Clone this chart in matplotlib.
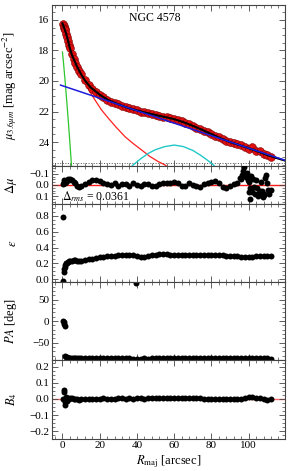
import matplotlib
matplotlib.use("Agg")
import matplotlib.pyplot as plt
from matplotlib.ticker import MultipleLocator

plt.rcParams['font.family'] = ['Liberation Serif', 'DejaVu Serif']
plt.rcParams['mathtext.fontset'] = 'stix'
plt.rcParams['font.size'] = 8

# radii of the isophote fits [arcsec]
r = [0.3, 0.6, 0.9, 1.2, 1.5, 2.0, 2.5, 3.0, 3.5, 4.0,
     5, 6, 7, 8, 9, 10,
     12, 14, 16, 18, 20, 22, 24, 26, 28, 30,
     32, 34, 36, 38, 40, 42, 44, 46, 48, 50,
     52, 54, 56, 58, 60, 62, 64, 66, 68, 70,
     72, 74, 76, 78, 80, 82, 84, 86, 88, 90,
     92, 94, 96, 98, 100, 102, 104, 106, 108, 110, 112]

# surface brightness profile
mu = [16.25, 16.38, 16.5, 16.6, 16.68, 16.9, 17.1, 17.35, 17.62, 17.85,
      18.25, 18.55, 18.85, 19.1, 19.35, 19.55,
      19.95, 20.27, 20.5, 20.72, 20.9, 21.07, 21.22, 21.35, 21.46, 21.54,
      21.62, 21.7, 21.78, 21.86, 21.93, 22.0, 22.06, 22.12, 22.18, 22.23,
      22.28, 22.33, 22.38, 22.44, 22.5, 22.57, 22.65, 22.74, 22.84, 22.94,
      23.05, 23.15, 23.26, 23.37, 23.48, 23.6, 23.7, 23.82, 23.92, 24.0,
      24.08, 24.14, 24.22, 24.3, 24.45, 24.35, 24.6, 24.62, 24.8, 24.82, 24.95]

# model and components
model_r = [0, 1, 2, 3, 4, 5, 6, 8, 10, 12, 15, 20, 25, 30, 35, 40, 45, 50, 55,
           60, 65, 70, 75, 80, 85, 90, 95, 100, 105, 110, 115, 125]
model_mu = [16.22, 16.55, 16.9, 17.35, 17.85, 18.25, 18.55, 19.1, 19.55, 19.95,
            20.4, 20.9, 21.28, 21.53, 21.75, 21.93, 22.09, 22.23, 22.36, 22.5,
            22.7, 22.94, 23.2, 23.48, 23.76, 24.0, 24.2, 24.4, 24.62, 24.85,
            25.05, 25.42]
bulge_r = [0, 1, 2, 3, 4, 6, 8, 10, 12, 14, 17.5, 21, 24.7, 29, 33.6, 38, 42.5,
           47, 51, 55, 58, 62]
bulge_mu = [16.22, 16.6, 16.95, 17.35, 17.75, 18.45, 19.0, 19.55, 20.05, 20.55,
            21.25, 21.9, 22.45, 23.05, 23.65, 24.1, 24.52, 24.95, 25.25, 25.5,
            25.75, 26.0]
disk_r = [-1.0, 125]
disk_mu = [20.27, 25.42]
nuc_r = [0.0, 0.5, 1.0, 1.5, 2.0, 2.5, 3.0, 3.5, 4.0, 4.5, 5.0]
nuc_mu = [18.1, 18.7, 19.4, 20.1, 20.85, 21.6, 22.4, 23.2, 24.05, 24.9, 25.8]
ring_r = [36.5, 38, 42, 46, 50, 55, 60, 65, 70, 74, 78, 81, 82.5]
ring_mu = [25.7, 25.5, 25.1, 24.75, 24.5, 24.3, 24.2, 24.3, 24.55, 24.85, 25.2,
           25.5, 25.7]
sky_mu = 25.4

# residuals
dmu = [-0.01, -0.03, -0.04, -0.035, -0.02, -0.03, -0.045, -0.05, -0.04, -0.05,
       -0.045, -0.03, -0.015, 0.005, 0.015, 0.01,
       -0.01, -0.025, -0.04, -0.045, -0.038, -0.02, -0.01, 0.0, -0.015, 0.005,
       -0.01, -0.005, 0.01, -0.015, 0.0, 0.012, -0.01, -0.005, 0.01, 0.012,
       -0.01, -0.015, -0.02, -0.02, -0.027, -0.015, 0.008, 0.005, -0.015, 0.0,
       0.01, 0.015, -0.008, -0.02, -0.03, -0.035, -0.015, 0.02, 0.03, 0.005,
       -0.01, -0.02, -0.05, -0.09, -0.03, 0.06, -0.04, 0.05, 0.08, -0.02, 0.04]
r_out = [95.5, 96.5, 97.0, 97.5, 98.0, 98.5, 99.0, 99.5, 100.0, 100.5, 101.0,
         101.5, 102.5, 103.0, 103.5, 104.5, 105.0, 105.5, 106.5, 107.0, 107.5,
         108.5, 109.0, 109.5, 110.5, 111.0]
dmu_out = [-0.06, -0.09, -0.12, -0.16, -0.10, -0.07, -0.11, -0.04, 0.06, 0.12,
           0.03, -0.08, -0.05, 0.02, 0.08, 0.03, 0.10, 0.07, -0.03, 0.05, 0.11,
           0.09, -0.06, -0.09, 0.04, 0.08]
drms = 0.0361

# ellipticity
ell = [-0.02, 0.09, 0.13, 0.16, 0.18, 0.2, 0.21, 0.22, 0.225, 0.23,
       0.235, 0.24, 0.24, 0.235, 0.23, 0.23,
       0.24, 0.25, 0.26, 0.27, 0.28, 0.285, 0.29, 0.295, 0.295, 0.30,
       0.30, 0.30, 0.305, 0.30, 0.295, 0.285, 0.28, 0.29, 0.30, 0.31,
       0.315, 0.32, 0.315, 0.31, 0.31, 0.31, 0.31, 0.305, 0.30, 0.30,
       0.30, 0.30, 0.305, 0.305, 0.31, 0.31, 0.305, 0.30, 0.295, 0.295,
       0.29, 0.29, 0.285, 0.28, 0.275, 0.285, 0.29, 0.29, 0.29, 0.29, 0.29]
ell_extra_r = [0.2]
ell_extra = [0.78]

# position angle
pa = [1, -3, -7, -12, -80, -83, -84, -84.5, -85, -85,
      -85.5, -85.5, -85, -85.5, -86, -86,
      -85.5, -85.5, -86, -86, -85.5, -86, -86, -86.5, -86, -86.5,
      -86, -86.5, -86.5, -87, -87, -87, -86.5, -87, -86.5, -86.5,
      -86, -86.5, -86.5, -86, -86, -86.5, -86, -86, -86.5, -86,
      -86, -86.5, -86, -86, -86.5, -86.5, -86, -86, -86.5, -86,
      -86, -86.5, -86.5, -86, -86.5, -86, -86.5, -86.5, -86, -86.5, -87]
pa_extra_r = [39.5]
pa_extra = [89]

# B4
b4 = [0.0, 0.045, 0.055, -0.02, -0.035, 0.01, -0.01, 0.008, 0.0, 0.005,
      0.004, -0.003, 0.002, 0.0, -0.004, 0.002,
      0.001, -0.003, 0.002, 0.0, -0.002, 0.003, 0.0, 0.002, -0.002, 0.004,
      0.006, 0.002, 0.004, -0.001, 0.003, 0.004, 0.002, 0.005, 0.003, 0.006,
      0.004, 0.003, 0.005, 0.007, 0.004, 0.006, 0.008, 0.004, 0.005, 0.003,
      0.006, 0.004, 0.002, 0.0, 0.001, -0.002, -0.003, -0.002, 0.0, 0.002,
      0.001, 0.0, 0.002, 0.004, 0.01, 0.009, 0.008, 0.005, 0.002, -0.006, 0.002]

xlim = (-5.6, 119.5)

fig = plt.figure(figsize=(2.93, 4.71), dpi=100)
left, width = 0.1775, 0.795
ax1 = fig.add_axes([left, 0.6476, width, 0.3418])
ax2 = fig.add_axes([left, 0.5669, width, 0.0807])
ax3 = fig.add_axes([left, 0.4006, width, 0.1662])
ax4 = fig.add_axes([left, 0.2357, width, 0.1650])
ax5 = fig.add_axes([left, 0.0686, width, 0.1671])
axes = [ax1, ax2, ax3, ax4, ax5]

dot = dict(ls='none', marker='o', ms=4.3, color='black', mew=0)

# top panel: profile + decomposition
ax1.plot(r, mu, ls='none', marker='o', ms=5.6, mfc='#e01010', mec='#7a0000',
         mew=0.4, zorder=3)
ax1.plot(model_r, model_mu, color='black', lw=1.5, zorder=4)
ax1.plot(nuc_r, nuc_mu, color='#2ec52e', lw=0.9, zorder=2)
ax1.plot(bulge_r, bulge_mu, color='#ff2020', lw=0.9, zorder=2)
ax1.plot(disk_r, disk_mu, color='#1c1cdc', lw=1.1, zorder=5)
ax1.plot(ring_r, ring_mu, color='#20c8c8', lw=1.0, zorder=2)
ax1.axhline(sky_mu, color='#555555', lw=0.7, ls=':', zorder=1)
ax1.set_ylim(25.57, 15.02)
ax1.yaxis.set_major_locator(MultipleLocator(2))
ax1.yaxis.set_minor_locator(MultipleLocator(0.5))
ax1.set_ylabel(r'$\mu_{3.6\mu m}$ [mag arcsec$^{-2}$]', fontsize=9)
ax1.text(0.44, 0.92, 'NGC 4578', transform=ax1.transAxes, ha='center',
         va='center', fontsize=8.5)

# residuals
ax2.axhline(0, color='#ff1a1a', lw=1.0, zorder=1)
ax2.plot(r, dmu, zorder=3, **dot)
ax2.plot(r_out, dmu_out, zorder=3, **dot)
ax2.set_ylim(0.168, -0.168)
ax2.yaxis.set_major_locator(MultipleLocator(0.1))
ax2.yaxis.set_minor_locator(MultipleLocator(0.025))
ax2.set_ylabel(r'$\Delta\mu$', fontsize=9)
ax2.text(0.045, 0.1, r'$\Delta_{rms}$ = %.4f' % drms, transform=ax2.transAxes,
         fontsize=8.5, va='baseline')

# ellipticity
ax3.plot(r, ell, **dot)
ax3.plot(ell_extra_r, ell_extra, **dot)
ax3.set_ylim(-0.04, 0.95)
ax3.yaxis.set_major_locator(MultipleLocator(0.2))
ax3.yaxis.set_minor_locator(MultipleLocator(0.05))
ax3.set_ylabel(r'$\epsilon$', fontsize=9)

# position angle
ax4.plot(r, pa, **dot)
ax4.plot(pa_extra_r, pa_extra, **dot)
ax4.set_ylim(-90, 90)
ax4.yaxis.set_major_locator(MultipleLocator(50))
ax4.yaxis.set_minor_locator(MultipleLocator(10))
ax4.set_ylabel(r'$PA$ [deg]', fontsize=9)

# B4
ax5.axhline(0, color='#ff6b6b', lw=1.0, zorder=1)
ax5.plot(r, b4, zorder=3, **dot)
ax5.set_ylim(-0.246, 0.241)
ax5.yaxis.set_major_locator(MultipleLocator(0.1))
ax5.yaxis.set_minor_locator(MultipleLocator(0.025))
ax5.set_ylabel(r'$B_4$', fontsize=9)
ax5.set_xlabel(r'$R_{\rm maj}$ [arcsec]', fontsize=9, labelpad=2)

for ax in axes:
    ax.set_xlim(*xlim)
    ax.xaxis.set_major_locator(MultipleLocator(20))
    ax.xaxis.set_minor_locator(MultipleLocator(4))
    ax.tick_params(which='both', direction='in', top=True, right=True,
                   color='#444444', labelsize=8, pad=2)
    ax.tick_params(which='major', length=4, width=0.6)
    ax.tick_params(which='minor', length=2, width=0.5)
    for s in ax.spines.values():
        s.set_color('#444444')
        s.set_linewidth(0.8)
    ax.yaxis.set_label_coords(-0.14, 0.5)
    if ax is not ax5:
        ax.tick_params(labelbottom=False)

fig.savefig('out.png', dpi=100)
